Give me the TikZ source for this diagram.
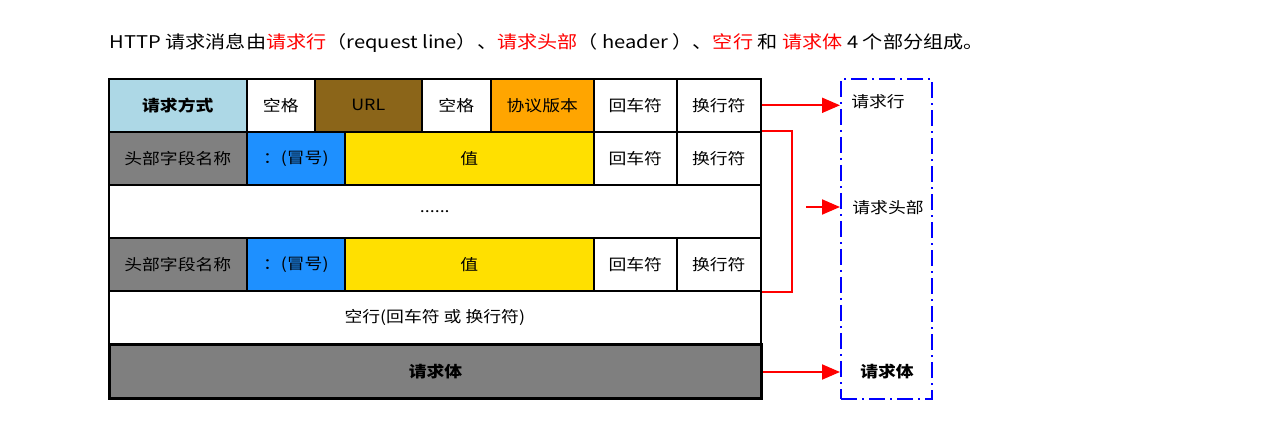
\documentclass[tikz,border=0pt]{standalone}
\usepackage{fontspec}
\setmainfont{Noto Sans CJK SC}[FakeStretch=1.15]
\usetikzlibrary{arrows.meta}
\definecolor{methodblue}{HTML}{ADD8E6}
\definecolor{urlbrown}{HTML}{8B6519}
\definecolor{verorange}{HTML}{FFA500}
\definecolor{fieldgray}{HTML}{808080}
\definecolor{colonblue}{HTML}{1E90FF}
\definecolor{valyellow}{HTML}{FFE000}
\definecolor{bodygray}{HTML}{7F7F7F}

\begin{document}
\begin{tikzpicture}[x=1pt,y=-1pt,
  cell/.style={draw,line width=1.6pt,anchor=north west,inner sep=0pt,
    minimum height=53pt,font=\fontsize{15.5}{18}\selectfont},
  tag/.style={font=\fontsize{15.5}{18}\selectfont},
  redarr/.style={red,line width=2pt,-{Triangle[length=18pt,width=15pt]}}]
\useasboundingbox (0,0) rectangle (1271,435);

\node[anchor=west,font=\fontsize{17.5}{20}\selectfont] (title) at (106,43)
  {HTTP 请求消息由\textcolor{red}{请求行}（request line）、\textcolor{red}{请求头部}（ header ）、\textcolor{red}{空行} 和 \textcolor{red}{请求体} 4 个部分组成。};

\node[cell,fill=methodblue,minimum width=138pt,font=\fontsize{15.5}{18}\selectfont\bfseries] (method) at (108,78) {请求方式};
\node[cell,minimum width=68pt] (sp1) at (246,78) {空格};
\node[cell,fill=urlbrown,minimum width=107pt] (url) at (314,78) {URL};
\node[cell,minimum width=69pt] (sp2) at (421,78) {空格};
\node[cell,fill=verorange,minimum width=103pt] (version) at (490,78) {协议版本};
\node[cell,minimum width=83pt] (cr1) at (593,78) {回车符};
\node[cell,minimum width=84pt] (lf1) at (676,78) {换行符};

\node[cell,fill=fieldgray,minimum width=138pt] (name1) at (108,131) {头部字段名称};
\node[cell,fill=colonblue,minimum width=98pt] (colon1) at (246,131) {：(冒号)};
\node[cell,fill=valyellow,minimum width=249pt] (value1) at (344,131) {值};
\node[cell,minimum width=83pt] (cr2) at (593,131) {回车符};
\node[cell,minimum width=84pt] (lf2) at (676,131) {换行符};

\node[cell,minimum width=652pt] (dots) at (108,184) {......};

\node[cell,fill=fieldgray,minimum width=138pt] (name2) at (108,237) {头部字段名称};
\node[cell,fill=colonblue,minimum width=98pt] (colon2) at (246,237) {：(冒号)};
\node[cell,fill=valyellow,minimum width=249pt] (value2) at (344,237) {值};
\node[cell,minimum width=83pt] (cr3) at (593,237) {回车符};
\node[cell,minimum width=84pt] (lf3) at (676,237) {换行符};

\node[cell,minimum width=652pt] (blank) at (108,290) {空行(回车符 或 换行符)};
\node[cell,fill=bodygray,line width=3pt,minimum width=652pt,minimum height=54pt,
  font=\fontsize{15.5}{18}\selectfont\bfseries] (body) at (108,343) {请求体};

\node[draw=blue,line width=2pt,dash pattern=on 16pt off 5pt on 2pt off 5pt,
  anchor=north west,minimum width=91pt,minimum height=320pt,inner sep=0pt] (frame) at (840,78) {};
\node[tag] (lblline) at (878,102) {请求行};
\node[tag] (lblhead) at (888,208) {请求头部};
\node[tag,font=\fontsize{15.5}{18}\selectfont\bfseries] (lblbody) at (887,372) {请求体};

\coordinate (headstart) at (806,207);
\draw[redarr] (lf1.east) -- (frame.west |- lf1.east);
\draw[red,line width=2pt] (lf2.north east) -- ++(30,0) |- (lf3.south east);
\draw[redarr] (headstart) -- (frame.west |- headstart);
\draw[redarr] (body.east |- lblbody) -- (frame.west |- lblbody);
\end{tikzpicture}
\end{document}
